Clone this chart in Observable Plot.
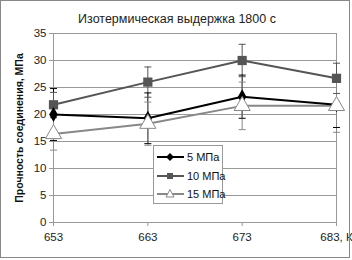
<!DOCTYPE html>
<html><head><meta charset="utf-8">
<script src="https://cdn.jsdelivr.net/npm/d3@7"></script>
<script src="https://cdn.jsdelivr.net/npm/@observablehq/plot@0.6"></script>
<style>
body{margin:0;background:#fff;font-family:"Liberation Sans",Arial,sans-serif;}
#wrap{position:relative;width:352px;height:260px;}
#frame{position:absolute;left:0;top:0;width:348px;height:256px;border:1px solid #888;pointer-events:none;}
#legend{position:absolute;left:153px;top:145px;width:68px;height:57px;border:1px solid #999;background:#fff;font-size:11px;color:#111;}
#legend .row{position:absolute;left:3px;height:14px;display:flex;align-items:center;white-space:nowrap;}
#legend span{margin-left:3px;}
</style></head>
<body><div id="wrap"></div>
<script>
const temps = [653, 663, 673, 683];
const seriesNames = ["5 МПа", "10 МПа", "15 МПа"];
const s5 = [20.0, 19.3, 23.3, 21.8];
const s10 = [21.8, 26.0, 30.0, 26.7];
const s15 = [16.4, 18.3, 21.6, 21.6];
const e5 = [4.8, 4.7, 4.0, 4.2];
const e10 = [2.3, 2.8, 3.0, 2.8];
const e15 = [3.0, 4.0, 4.4, 4.9];
const yTicks = [0, 5, 10, 15, 20, 25, 30, 35];
const xTickLabels = ["653", "663", "673", "683, К"];
const titleText = "Изотермическая выдержка 1800 с";
const yLabel = "Прочность соединения, МПа";

const colors = {"5 МПа": "#000", "10 МПа": "#555", "15 МПа": "#888"};
const vals = [s5, s10, s15], errs = [e5, e10, e15];
const data = [];
seriesNames.forEach((s, i) => temps.forEach((t, j) => data.push({series: s, t, v: vals[i][j], e: errs[i][j]})));

const capSymbol = {draw(ctx, size) { const w = 3.5; ctx.moveTo(-w, 0); ctx.lineTo(w, 0); }};
const byS = s => data.filter(d => d.series === s);

const chart = Plot.plot({
  width: 352, height: 260,
  marginLeft: 53, marginRight: 16, marginTop: 33, marginBottom: 38,
  style: {fontFamily: "'Liberation Sans', Arial, sans-serif", fontSize: "11.5px", background: "#fff"},
  x: {domain: [653, 683]},
  y: {domain: [0, 35]},
  marks: [
    Plot.gridY(yTicks, {stroke: "#999", strokeOpacity: 1}),
    Plot.frame({stroke: "#999"}),
    Plot.axisY({ticks: yTicks, tickSize: 4, tickPadding: 3, stroke: "#999", label: null, fill: "#222"}),
    Plot.axisX({ticks: temps, tickSize: 4, tickPadding: 6, stroke: "#999", label: null, fill: "#222", tickFormat: (d, i) => xTickLabels[i]}),
    ...seriesNames.map(s => Plot.ruleX(byS(s), {x: "t", y1: d => d.v - d.e, y2: d => d.v + d.e, stroke: colors[s], strokeWidth: 1})),
    ...seriesNames.map(s => Plot.dot(byS(s), {x: "t", y: d => d.v + d.e, symbol: capSymbol, stroke: colors[s], strokeWidth: 1, fill: "none", r: 3})),
    ...seriesNames.map(s => Plot.dot(byS(s), {x: "t", y: d => d.v - d.e, symbol: capSymbol, stroke: colors[s], strokeWidth: 1, fill: "none", r: 3})),
    Plot.line(byS("15 МПа"), {x: "t", y: "v", stroke: colors["15 МПа"], strokeWidth: 2}),
    Plot.line(byS("10 МПа"), {x: "t", y: "v", stroke: colors["10 МПа"], strokeWidth: 2}),
    Plot.line(byS("5 МПа"), {x: "t", y: "v", stroke: colors["5 МПа"], strokeWidth: 2}),
    Plot.dot(byS("10 МПа"), {x: "t", y: "v", symbol: "square", fill: "#555", r: 5.2}),
    Plot.dot(byS("5 МПа"), {x: "t", y: "v", symbol: "diamond", fill: "#000", r: 4.5}),
    Plot.dot(byS("15 МПа"), {x: "t", y: "v", symbol: "triangle", fill: "#fff", stroke: "#888", strokeWidth: 1, r: 6}),
    Plot.text([titleText], {frameAnchor: "top", dx: -18, dy: -19, fontSize: 12.5, fill: "#222"}),
    Plot.text([yLabel], {frameAnchor: "left", textAnchor: "middle", rotate: -90, dx: -34, fontWeight: "bold", fontSize: 10.5, fill: "#111"})
  ]
});
const wrap = document.getElementById("wrap");
wrap.appendChild(chart);
const fr = document.createElement("div"); fr.id = "frame"; wrap.appendChild(fr);

const lg = document.createElement("div"); lg.id = "legend";
const markers = {
  "5 МПа": '<path d="M13,3 L17,7 L13,11 L9,7Z" fill="#000"/>',
  "10 МПа": '<rect x="10" y="4" width="6" height="6" fill="#555"/>',
  "15 МПа": '<path d="M13,2.5 L17,10 L9,10Z" fill="#fff" stroke="#888"/>'
};
seriesNames.forEach((s, i) => {
  const r = document.createElement("div"); r.className = "row"; r.style.top = (4 + i * 18.5) + "px";
  r.innerHTML = `<svg width="27" height="14"><line x1="0" x2="27" y1="7" y2="7" stroke="${colors[s]}" stroke-width="2"/>${markers[s]}</svg><span>${s}</span>`;
  lg.appendChild(r);
});
wrap.appendChild(lg);
</script></body></html>
